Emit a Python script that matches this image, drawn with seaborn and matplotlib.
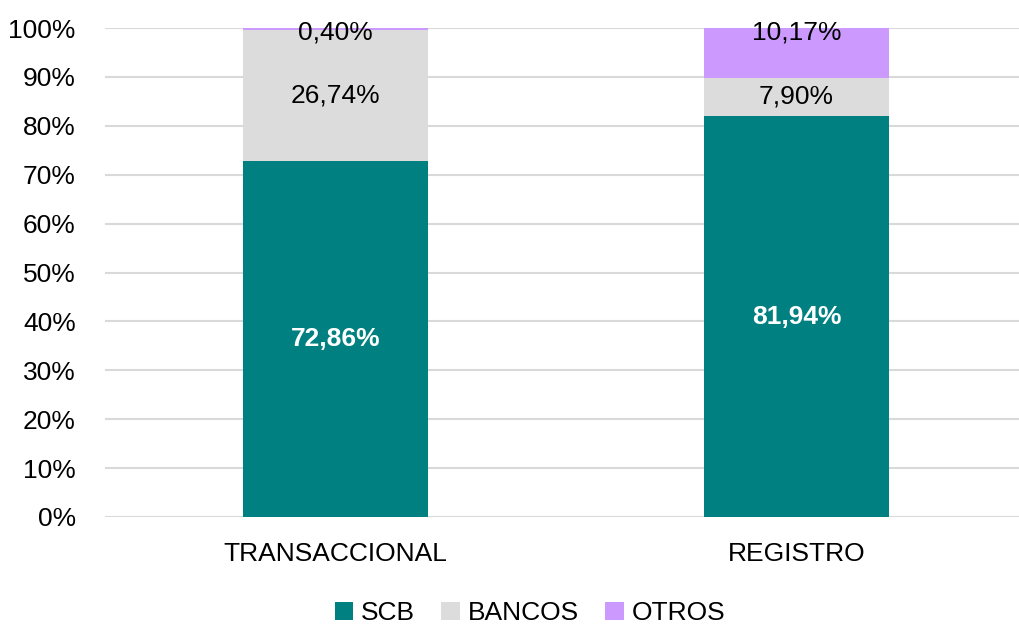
import pandas as pd
import matplotlib.pyplot as plt
import seaborn as sns
from matplotlib.patches import Patch

# Data
categorias = ["TRANSACCIONAL", "REGISTRO"]
scb = [72.86, 81.94]
bancos = [26.74, 7.90]
otros = [0.40, 10.17]
series = ["SCB", "BANCOS", "OTROS"]
colores = {"SCB": "#008080", "BANCOS": "#DCDCDC", "OTROS": "#CC99FF"}

sns.set_theme(style="white")
plt.rcParams["font.family"] = ["Liberation Sans Narrow", "Liberation Sans", "DejaVu Sans"]
plt.rcParams["text.color"] = "black"

FS = 19

df = pd.DataFrame({"categoria": categorias, "SCB": scb, "BANCOS": bancos, "OTROS": otros})
df["acum_bancos"] = df["SCB"] + df["BANCOS"]
df["acum_otros"] = df["acum_bancos"] + df["OTROS"]

fig = plt.figure(figsize=(10.19, 6.28), dpi=100)
ax = fig.add_axes([105 / 1019, 111 / 628, 922 / 1019, 489 / 628])

# Stacked bars: draw totals first, then overlay
for col, serie in [("acum_otros", "OTROS"), ("acum_bancos", "BANCOS"), ("SCB", "SCB")]:
    sns.barplot(x="categoria", y=col, data=df, color=colores[serie], width=0.4,
                saturation=1, linewidth=0, ax=ax, zorder=3)

# Labels
def fmt(v):
    return f"{v:.2f}".replace(".", ",") + "%"

for i, row in df.iterrows():
    ax.text(i, row["SCB"] / 2, fmt(row["SCB"]), ha="center", va="center",
            color="white", fontsize=FS, fontweight="bold", zorder=5)
    ax.text(i, row["SCB"] + row["BANCOS"] / 2, fmt(row["BANCOS"]), ha="center", va="center",
            color="black", fontsize=FS, zorder=5)
    ax.text(i, 99.0, fmt(row["OTROS"]), ha="center", va="center",
            color="black", fontsize=FS, zorder=5)

ax.set_ylim(0, 100)
ax.set_xlim(-0.5, 1.5)
ax.set_yticks(range(0, 101, 10))
ax.set_yticklabels([f"{t}%" for t in range(0, 101, 10)])
ax.set_xlabel("")
ax.set_ylabel("")
ax.grid(axis="y", color="#D9D9D9", linewidth=1.5, zorder=0)
ax.set_axisbelow(True)
for s in ax.spines.values():
    s.set_visible(False)
ax.tick_params(axis="y", length=0, pad=21, labelsize=FS, colors="black")
ax.tick_params(axis="x", length=0, pad=18, labelsize=FS, colors="black")

handles = [Patch(facecolor=colores[s], edgecolor="none", label=s) for s in series]
fig.legend(handles=handles, loc="center", bbox_to_anchor=(530 / 1019, 15 / 628), ncol=3,
           frameon=False, fontsize=FS, handlelength=0.7, handleheight=0.7,
           handletextpad=0.3, columnspacing=1.0, labelcolor="black")

plt.savefig("out.png", dpi=100)
